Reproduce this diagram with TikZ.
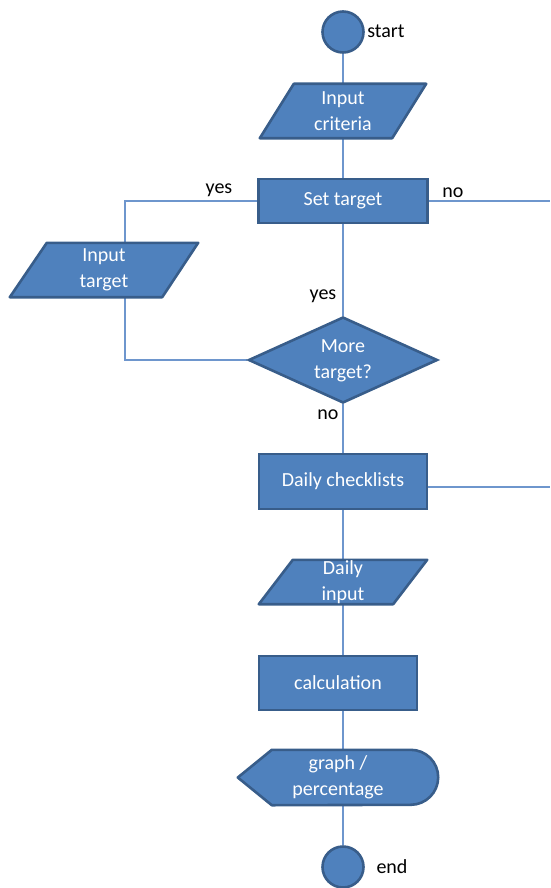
\documentclass[tikz,border=0pt]{standalone}
\usepackage{fontspec}
\setmainfont{Carlito}
\usetikzlibrary{shapes.geometric}
\pgfdeclarelayer{background}
\pgfsetlayers{background,main}
\definecolor{boxfill}{HTML}{4F81BD}
\definecolor{boxline}{HTML}{385D8A}
\definecolor{conn}{RGB}{110,150,205}
\begin{document}
\begin{tikzpicture}[x=1pt,y=-1pt,
 every node/.style={font=\fontsize{20}{25.5}\selectfont},
 box/.style={rectangle,draw=boxline,fill=boxfill,line width=2.6pt,text=white,inner sep=0pt,align=center},
 term/.style={circle,draw=boxline,fill=boxfill,line width=2.6pt,minimum size=41pt,inner sep=0pt},
 dec/.style={diamond,draw=boxline,fill=boxfill,line width=2.6pt,inner sep=0pt,minimum width=189pt,minimum height=86pt},
 ghost/.style={rectangle,inner sep=0pt,text=white,align=center},
 shapeline/.style={draw=boxline,fill=boxfill,line width=2.6pt,line join=round},
 link/.style={draw=conn,line width=1.3pt},
 lbl/.style={text=black,inner sep=0pt}]
\useasboundingbox (0,0) rectangle (550,888);

\node[term] (start) at (343,32) {};
\node[lbl] (startl) at (386,31) {start};
\node[ghost,minimum width=166pt,minimum height=54pt] (crit) at (343,111) {Input\\criteria};
\node[box,minimum width=169pt,minimum height=44pt] (set) at (343,201) {Set target};
\node[ghost,minimum width=188pt,minimum height=54pt] (intg) at (104,270) {Input\\target};
\node[dec] (dia) at (343,360) {};
\node[ghost] (diat) at (343,361) {More\\target?};
\node[box,minimum width=168pt,minimum height=55pt] (chk) at (343,481.5) {Daily checklists};
\node[ghost,minimum width=168pt,minimum height=44pt] (din) at (343,582) {Daily\\input};
\node[box,minimum width=158pt,minimum height=54pt] (calc) at (338,683) {calculation};
\node[ghost,minimum width=200pt,minimum height=55pt] (graph) at (338,777.5) {graph /\\percentage};
\node[term] (endc) at (343,867) {};
\node[lbl] (endl) at (392,867) {end};

\node[lbl] (yesA) at (219,190) {yes};
\node[lbl] (noA) at (453,193) {no};
\node[lbl] (yesB) at (323,296) {yes};
\node[lbl] (noB) at (328,415) {no};

\coordinate (rA) at (550,202);
\coordinate (rB) at (550,487);

\begin{pgfonlayer}{background}
\draw[link] (start.south) -- (crit.north);
\draw[link] (crit.south) -- (set.north);
\draw[link] (set.south) -- (dia.north);
\draw[link] (dia.south) -- (chk.north);
\draw[link] (chk.south) -- (din.north);
\draw[link] (din.south) -- (calc.north -| din.south);
\draw[link] (calc.south -| din.south) -- (graph.north -| din.south);
\draw[link] (graph.south -| din.south) -- (endc.north);
\draw[link] (set.west) -| ([xshift=21pt]intg.north);
\draw[link] ([xshift=21pt]intg.south) |- (dia.west);
\draw[link] (set.east) -- (set.east -| rA);
\draw[link] (chk.east |- rB) -- (rB);

\path[shapeline] (crit.south west) -- ([xshift=34pt]crit.north west) -- (crit.north east) -- ([xshift=-34pt]crit.south east) -- cycle;
\path[shapeline] (intg.south west) -- ([xshift=37pt]intg.north west) -- (intg.north east) -- ([xshift=-36pt]intg.south east) -- cycle;
\path[shapeline] (din.south west) -- ([xshift=34pt]din.north west) -- (din.north east) -- ([xshift=-34pt]din.south east) -- cycle;
\path[shapeline] (graph.west) -- ([xshift=34pt]graph.north west) -- ([xshift=-27.5pt]graph.north east) arc[start angle=90,end angle=-90,radius=27.5pt] -- ([xshift=34pt]graph.south west) -- cycle;
\end{pgfonlayer}
\end{tikzpicture}
\end{document}
